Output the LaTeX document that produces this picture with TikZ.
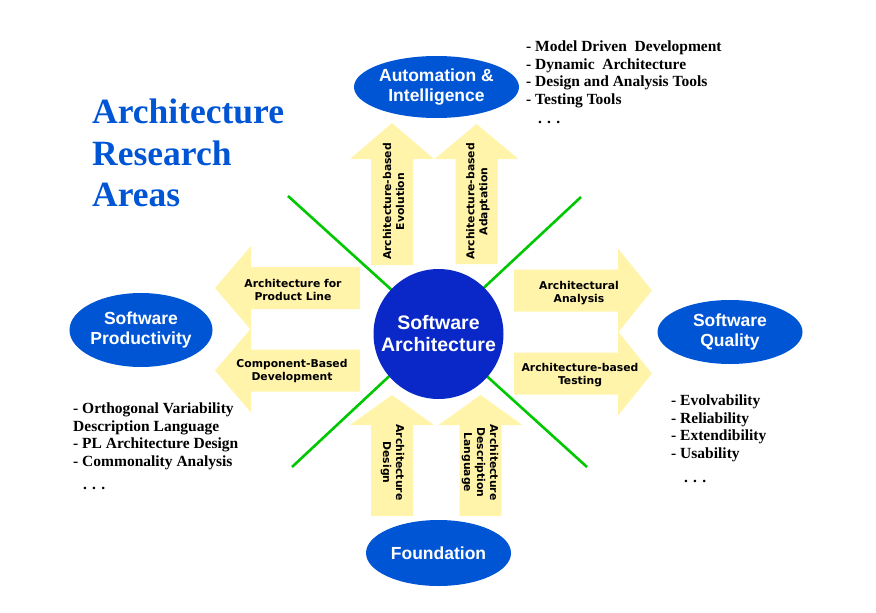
\documentclass[tikz,border=0pt]{standalone}
\usepackage{fontspec}
\setmainfont{Liberation Serif}
\newfontfamily\bubblefont{Liberation Sans}
\newfontfamily\labelfont{DejaVu Sans}
\usetikzlibrary{shapes.geometric}
\definecolor{arrowyellow}{RGB}{255,244,170}
\definecolor{bubbleblue}{RGB}{0,85,212}
\definecolor{coreblue}{RGB}{10,40,200}
\definecolor{crossgreen}{RGB}{0,200,0}
\newcommand{\ShaftHalf}{21}
\newcommand{\HeadHalf}{42}
\newcommand{\BlockArrow}[5]{
	\begin{scope}[shift={(#1,#2)}, rotate=#3]
		\coordinate (T1) at (0,-\ShaftHalf);
		\coordinate (T2) at (0,\ShaftHalf);
		\coordinate (S1) at (\fpeval{#4-#5},-\ShaftHalf);
		\coordinate (S2) at (\fpeval{#4-#5},\ShaftHalf);
		\coordinate (H1) at (\fpeval{#4-#5},-\HeadHalf);
		\coordinate (H2) at (\fpeval{#4-#5},\HeadHalf);
		\coordinate (P) at (#4,0);
		\fill[arrowyellow] (T1) -- (S1) -- (H1) -- (P) -- (H2) -- (S2) -- (T2) -- cycle;
	\end{scope}
}
\begin{document}
\begin{tikzpicture}[x=1pt, y=-1pt,
		cross/.style={draw=crossgreen, line width=2.6pt},
		arrowlabel/.style={font=\labelfont\bfseries\fontsize{10.8}{13}\selectfont, align=center, inner sep=0pt},
		bubble/.style={ellipse, fill=bubbleblue, text=white, inner sep=0pt, align=center,
			font=\bubblefont\bfseries\fontsize{17.5}{20}\selectfont},
		itemlist/.style={anchor=north west, inner sep=0pt, align=left,
			font=\bfseries\fontsize{15.5}{17.7}\selectfont}]
		\useasboundingbox (0,0) rectangle (876,613);
		\coordinate (nw) at (288,196);
		\coordinate (se) at (587,467);
		\coordinate (ne) at (581,197);
		\coordinate (sw) at (292,467);
		\draw[cross] (nw) -- (se);
		\draw[cross] (ne) -- (sw);
		\BlockArrow{392}{265}{90}{142}{36}
		\BlockArrow{476.5}{264}{90}{140}{35}
		\BlockArrow{360}{288}{180}{145}{36}
		\BlockArrow{360}{370.5}{180}{145}{36}
		\BlockArrow{514}{290.5}{0}{138}{34}
		\BlockArrow{514}{373.5}{0}{138}{34}
		\BlockArrow{392}{516}{90}{121}{30}
		\BlockArrow{480.5}{516}{90}{121}{30}
		\node[circle, fill=coreblue, text=white, minimum size=130pt, inner sep=0pt, align=center,
			font=\bubblefont\bfseries\fontsize{19.5}{22}\selectfont] (sa) at (438.5,334) {Software\\Architecture};
		\node[bubble, minimum width=165pt, minimum height=62pt] (automation) at (436.5,87) {Automation \&\\Intelligence};
		\node[bubble, minimum width=130pt, minimum height=74pt] (productivity) at (141,330) {Software\\Productivity};
		\node[bubble, minimum width=145pt, minimum height=64pt] (quality) at (730,332) {Software\\Quality};
		\node[bubble, minimum width=145pt, minimum height=66pt] (foundation) at (438.5,553) {Foundation};
		\node[arrowlabel, rotate=90] (evolution) at (393.5,201.5) {Architecture-based\\Evolution};
		\node[arrowlabel, rotate=90] (adaptation) at (478,201.5) {Architecture-based\\Adaptation};
		\node[arrowlabel] (productline) at (293,290) {Architecture for\\Product Line};
		\node[arrowlabel] (cbd) at (292,371.5) {Component-Based\\Development};
		\node[arrowlabel] (analysis) at (579,293) {Architectural\\Analysis};
		\node[arrowlabel] (testing) at (580,375) {Architecture-based\\Testing};
		\node[arrowlabel, rotate=-90] (design) at (392.5,462.5) {Architecture\\Design};
		\node[arrowlabel, rotate=-90] (adl) at (480,462.5) {Architecture\\Description\\Language};
		\node[anchor=north west, inner sep=0pt, align=left, text=bubbleblue,
			font=\bfseries\fontsize{35.5}{41.5}\selectfont] (title) at (92,99) {Architecture\\Research\\Areas};
		\node[itemlist] (autolist) at (526,40.5) {- Model Driven\ \ Development\\- Dynamic\ \ Architecture\\- Design and Analysis Tools\\- Testing Tools\\[1.5pt]\hspace*{12pt}. . .};
		\node[itemlist] (prodlist) at (73,402.5) {- Orthogonal Variability\\Description Language\\- PL Architecture Design\\- Commonality Analysis\\[5pt]\hspace*{10pt}. . .};
		\node[itemlist] (qualitylist) at (671,394.5) {- Evolvability\\- Reliability\\- Extendibility\\- Usability\\[6pt]\hspace*{13pt}. . .};
	\end{tikzpicture}
\end{document}
